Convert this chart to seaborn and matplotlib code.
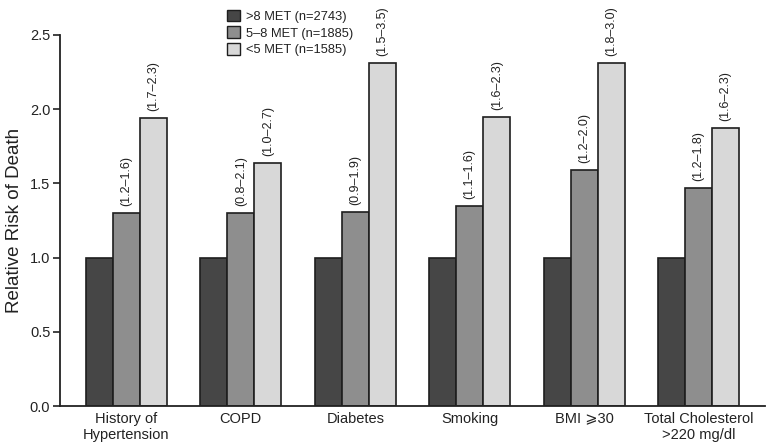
import matplotlib
matplotlib.use("Agg")
import matplotlib.pyplot as plt
import seaborn as sns
import pandas as pd
from matplotlib.patches import Patch

categories = ["History of\nHypertension", "COPD", "Diabetes", "Smoking",
              "BMI \u2a7e30", "Total Cholesterol\n>220 mg/dl"]
groups = [">8 MET (n=2743)", "5\u20138 MET (n=1885)", "<5 MET (n=1585)"]
rr_high = [1.0, 1.0, 1.0, 1.0, 1.0, 1.0]
rr_mid = [1.30, 1.30, 1.31, 1.35, 1.59, 1.47]
rr_low = [1.94, 1.64, 2.31, 1.95, 2.31, 1.875]
ci_mid = ["(1.2\u20131.6)", "(0.8\u20132.1)", "(0.9\u20131.9)", "(1.1\u20131.6)", "(1.2\u20132.0)", "(1.2\u20131.8)"]
ci_low = ["(1.7\u20132.3)", "(1.0\u20132.7)", "(1.5\u20133.5)", "(1.6\u20132.3)", "(1.8\u20133.0)", "(1.6\u20132.3)"]
colors = ["#464646", "#8e8e8e", "#d8d8d8"]

rows = []
for i, c in enumerate(categories):
    for g, vals in zip(groups, [rr_high, rr_mid, rr_low]):
        rows.append({"cat": c, "grp": g, "rr": vals[i]})
df = pd.DataFrame(rows)

sns.set_style("ticks")
plt.rcParams["font.family"] = ["Liberation Sans", "DejaVu Sans"]
plt.rcParams["text.color"] = "#222222"

fig = plt.figure(figsize=(7.69, 4.48), dpi=100)
ax = fig.add_axes([60 / 769, 42 / 448, 705 / 769, 371 / 448])

sns.barplot(data=df, x="cat", y="rr", hue="grp", order=categories, hue_order=groups,
            palette=colors, width=0.71, edgecolor="#1e1e1e", linewidth=1.2,
            errorbar=None, legend=False, ax=ax, saturation=1)

for cont, labels in zip(ax.containers[1:], [ci_mid, ci_low]):
    for bar, lab in zip(cont, labels):
        ax.annotate(lab, (bar.get_x() + bar.get_width() / 2, bar.get_height()),
                    xytext=(0, 5), textcoords="offset points", ha="center", va="bottom",
                    rotation=90, fontsize=9, color="#222222")

ax.set_xlim(-0.58, 5.58)
ax.set_ylim(0, 2.5)
ax.set_yticks([0, 0.5, 1.0, 1.5, 2.0, 2.5])
ax.set_yticklabels(["0.0", "0.5", "1.0", "1.5", "2.0", "2.5"])
ax.set_xlabel("")
ax.set_ylabel("Relative Risk of Death", fontsize=13.5, color="#222222", labelpad=5)
ax.tick_params(axis="y", length=5, width=1.2, labelsize=10.5, colors="#222222", pad=2)
ax.tick_params(axis="x", length=0, labelsize=10.5, colors="#222222", pad=4)
for s in ["top", "right"]:
    ax.spines[s].set_visible(False)
for s in ["left", "bottom"]:
    ax.spines[s].set_linewidth(1.3)
    ax.spines[s].set_color("#222222")

handles = [Patch(facecolor=c, edgecolor="#1e1e1e", linewidth=1.0) for c in colors]
fig.legend(handles, groups, loc="upper left", bbox_to_anchor=(224 / 769, 1 - 7 / 448),
           frameon=False, fontsize=9.3, handlelength=1.0, handleheight=1.0,
           handletextpad=0.5, labelspacing=0.28, borderaxespad=0, borderpad=0.2)

fig.savefig("out.png", dpi=100)
